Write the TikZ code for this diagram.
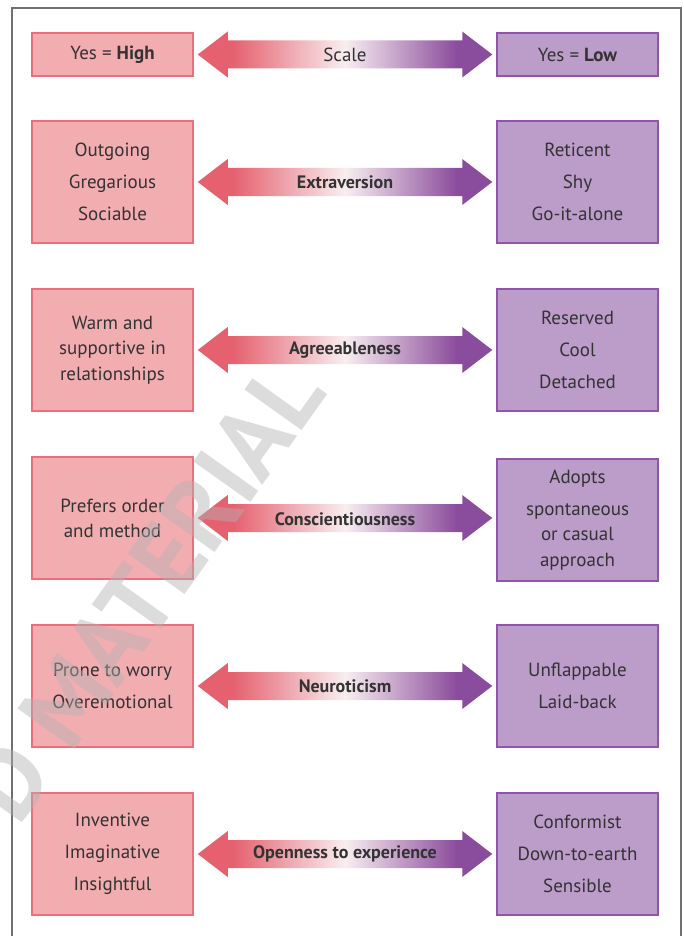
\documentclass[tikz,border=0pt]{standalone}
\usepackage{fontspec}
\setmainfont{PT Sans}
\usetikzlibrary{calc}
\definecolor{pinkfill}{HTML}{F2ADB1}
\definecolor{pinkline}{HTML}{E8707D}
\definecolor{purpfill}{HTML}{BC9CC9}
\definecolor{purpline}{HTML}{9055A8}
\definecolor{arrpink}{HTML}{E5616F}
\definecolor{arrmid}{HTML}{F8EEF0}
\definecolor{arrpurp}{HTML}{8A4C9C}
\definecolor{txt}{HTML}{333333}
\definecolor{framec}{HTML}{707070}
\pgfdeclarehorizontalshading{scaleshade}{100bp}{color(0bp)=(arrpink); color(31bp)=(arrpink); color(50bp)=(arrmid); color(69bp)=(arrpurp); color(100bp)=(arrpurp)}
\tikzset{
  lbox/.style={draw=pinkline, fill=pinkfill, line width=1.5pt, minimum width=161pt, minimum height=122pt, inner sep=0pt, align=center, text=txt, font=\fontsize{19pt}{32pt}\selectfont},
  rbox/.style={lbox, draw=purpline, fill=purpfill},
  toprow/.style={minimum height=43pt},
  arrlabel/.style={text=txt, font=\bfseries\fontsize{18pt}{22pt}\selectfont, inner sep=0pt},
}
\newcommand\dblarrow[3]{%
  \shade[shading=scaleshade] let \p1=(#1.east), \p2=(#2.west) in
    ({\x1+4pt},{\y1}) -- ({\x1+34pt},{\y1+23pt}) -- ({\x1+34pt},{\y1+14pt}) --
    ({\x2-34pt},{\y1+14pt}) -- ({\x2-34pt},{\y1+23pt}) -- ({\x2-4pt},{\y1}) --
    ({\x2-34pt},{\y1-23pt}) -- ({\x2-34pt},{\y1-14pt}) -- ({\x1+34pt},{\y1-14pt}) --
    ({\x1+34pt},{\y1-23pt}) -- cycle;
  \node[arrlabel] at ($(#1.east)!0.5!(#2.west)$) {#3};
}
\begin{document}
\begin{tikzpicture}[x=1pt,y=-1pt]
\useasboundingbox (0,0) rectangle (683,936);
\fill[white] (0,0) rectangle (683,936);
\draw[framec, line width=1.5pt] (12,940) -- (12,8) -- (681,8) -- (681,940);

% top row
\node[lbox, toprow] (h0) at (112.5,54.5) {Yes = \textbf{High}};
\node[rbox, toprow] (l0) at (577.5,54.5) {Yes = \textbf{Low}};
\dblarrow{h0}{l0}{\mdseries\fontsize{19pt}{22pt}\selectfont Scale}

% rows
\node[lbox] (h1) at (112.5,182) {Outgoing\\Gregarious\\Sociable};
\node[rbox] (l1) at (577.5,182) {Reticent\\Shy\\Go-it-alone};
\dblarrow{h1}{l1}{Extraversion}

\node[lbox, font=\fontsize{19pt}{25.5pt}\selectfont] (h2) at (112.5,350) {Warm and\\supportive in\\relationships};
\node[rbox] (l2) at (577.5,350) {Reserved\\Cool\\Detached};
\dblarrow{h2}{l2}{Agreeableness}

\node[lbox, font=\fontsize{19pt}{25pt}\selectfont] (h3) at (112.5,518) {Prefers order\\and method};
\node[rbox, font=\fontsize{19pt}{25.5pt}\selectfont] (l3) at (577.5,520) {Adopts\\[6pt]spontaneous\\or casual\\approach};
\dblarrow{h3}{l3}{Conscientiousness}

\node[lbox] (h4) at (112.5,686) {Prone to worry\\Overemotional};
\node[rbox] (l4) at (577.5,686) {Unflappable\\Laid-back};
\dblarrow{h4}{l4}{Neuroticism}

\node[lbox] (h5) at (112.5,854) {Inventive\\Imaginative\\Insightful};
\node[rbox] (l5) at (577.5,854) {Conformist\\Down-to-earth\\Sensible};
\dblarrow{h5}{l5}{Openness to experience}

% watermark
\begin{scope}
\clip (0,0) rectangle (683,936);
\node[rotate=54.5, anchor=base east, text=gray!60, opacity=0.45, font=\bfseries\fontsize{100pt}{100pt}\selectfont, inner sep=0pt] (wm) at (328,394) {D MATERIAL};
\end{scope}
\end{tikzpicture}
\end{document}
